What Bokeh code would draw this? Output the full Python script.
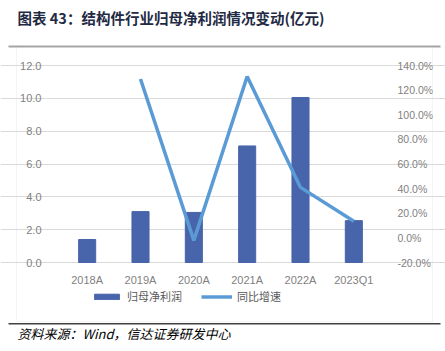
from bokeh.plotting import figure
from bokeh.models import (Range1d, LinearAxis, Label, BoxAnnotation,
                          Legend, LegendItem, PrintfTickFormatter, FixedTicker)
from bokeh.embed import file_html
from bokeh.resources import INLINE

categories = ["2018A", "2019A", "2020A", "2021A", "2022A", "2023Q1"]
profit = [1.4, 3.1, 3.05, 7.1, 10.05, 2.55]
growth = [float("nan"), 129.0, -2.0, 131.0, 41.0, 13.5]
left_ticks = [0, 2, 4, 6, 8, 10, 12]
right_ticks = [-20, 0, 20, 40, 60, 80, 100, 120, 140]
title_text = "图表 43：结构件行业归母净利润情况变动(亿元)"
source_text = "资料来源：Wind，信达证券研发中心"
series_names = ["归母净利润", "同比增速"]

# page layout (pixels); the whole canvas is the plot frame
W, H = 445, 351
PL, PR, PT, PB = 60, 380, 65, 262   # plot-area edges
n = len(categories)
x_pos = list(range(n))
px_per_cat = (PR - PL) / n
x0 = -0.5 - PL / px_per_cat
x1 = x0 + W / px_per_cat
ly0, ly1 = left_ticks[0], left_ticks[-1]
ry0, ry1 = right_ticks[0], right_ticks[-1]
l_per_px = (ly1 - ly0) / (PB - PT)
r_per_px = (ry1 - ry0) / (PB - PT)

p = figure(width=W, height=H, output_backend="svg", toolbar_location=None,
           x_range=Range1d(x0, x1),
           y_range=Range1d(ly0 - (H - PB) * l_per_px, ly1 + PT * l_per_px),
           min_border=0, min_border_left=0, min_border_right=0,
           min_border_top=0, min_border_bottom=0)
p.outline_line_color = None
p.background_fill_color = "white"
p.border_fill_color = "white"
p.extra_y_ranges = {"pct": Range1d(ry0 - (H - PB) * r_per_px, ry1 + PT * r_per_px)}

bars = p.vbar(x=x_pos, top=profit, width=0.32, fill_color="#4864ab",
              line_color="#4864ab")
line = p.line(x=x_pos, y=growth, y_range_name="pct", line_width=3.5,
              line_color="#5b9bd5")

tick_color = "#7f7f7f"
font = "Liberation Sans"

def style_axis(ax, standoff, size="11px"):
    ax.axis_line_color = None
    ax.major_tick_line_color = None
    ax.minor_tick_line_color = None
    ax.major_label_text_color = tick_color
    ax.major_label_text_font = font
    ax.major_label_text_font_size = size
    ax.major_label_standoff = standoff

ya = p.yaxis[0]
ya.ticker = FixedTicker(ticks=left_ticks)
ya.formatter = PrintfTickFormatter(format="%.1f")
ya.fixed_location = -0.5
style_axis(ya, 13)

ra = LinearAxis(y_range_name="pct", ticker=FixedTicker(ticks=right_ticks),
                formatter=PrintfTickFormatter(format="%.1f%%"))
ra.fixed_location = n - 0.5
style_axis(ra, 11, "10.5px")
p.add_layout(ra, "right")

xa = p.xaxis[0]
xa.ticker = FixedTicker(ticks=x_pos)
xa.major_label_overrides = {i: c for i, c in zip(x_pos, categories)}
xa.fixed_location = 0
style_axis(xa, 5)

p.xgrid.grid_line_color = None
p.ygrid.ticker = FixedTicker(ticks=left_ticks)
p.ygrid.bounds = (-0.5, n - 0.5)
p.ygrid.grid_line_color = "#d9d9d9"
p.ygrid.grid_line_width = 1

legend = Legend(items=[LegendItem(label=series_names[0], renderers=[bars]),
                       LegendItem(label=series_names[1], renderers=[line])],
                orientation="horizontal", location=(91, H - 304),
                border_line_color=None, background_fill_alpha=0,
                glyph_width=31, glyph_height=7, label_height=14,
                label_text_font="Noto Sans CJK SC",
                label_text_font_size="11px", label_text_color="#595959",
                label_standoff=5, spacing=19, padding=0, margin=0)
p.add_layout(legend)

def sbox(left, right, top, bottom, **kw):
    # page pixel box (y downwards) -> frame screen units (y upwards)
    return BoxAnnotation(left=left, right=right, top=H - top, bottom=H - bottom,
                         left_units="screen", right_units="screen",
                         top_units="screen", bottom_units="screen", **kw)

p.add_layout(sbox(16, 432, 46, 321, fill_alpha=0, line_color="#d9d9d9", line_width=1))
p.add_layout(sbox(8, 440, 45, 47, fill_color="#a6a6a6", fill_alpha=1, line_color=None))
p.add_layout(sbox(8, 440, 322.5, 324, fill_color="#404040", fill_alpha=1, line_color=None))

p.add_layout(Label(x=17, y=H - 17, x_units="screen", y_units="screen",
                   text=title_text, text_font="Noto Sans CJK SC",
                   text_font_size="14.5px", text_font_style="bold",
                   text_color="#1f2a44", text_baseline="middle", text_align="left"))
p.add_layout(Label(x=17, y=H - 333, x_units="screen", y_units="screen",
                   text=source_text, text_font="Noto Sans CJK SC",
                   text_font_size="13px", text_font_style="italic",
                   text_color="#000000", text_baseline="middle", text_align="left"))

open("out.html", "w").write(file_html(p, INLINE))
